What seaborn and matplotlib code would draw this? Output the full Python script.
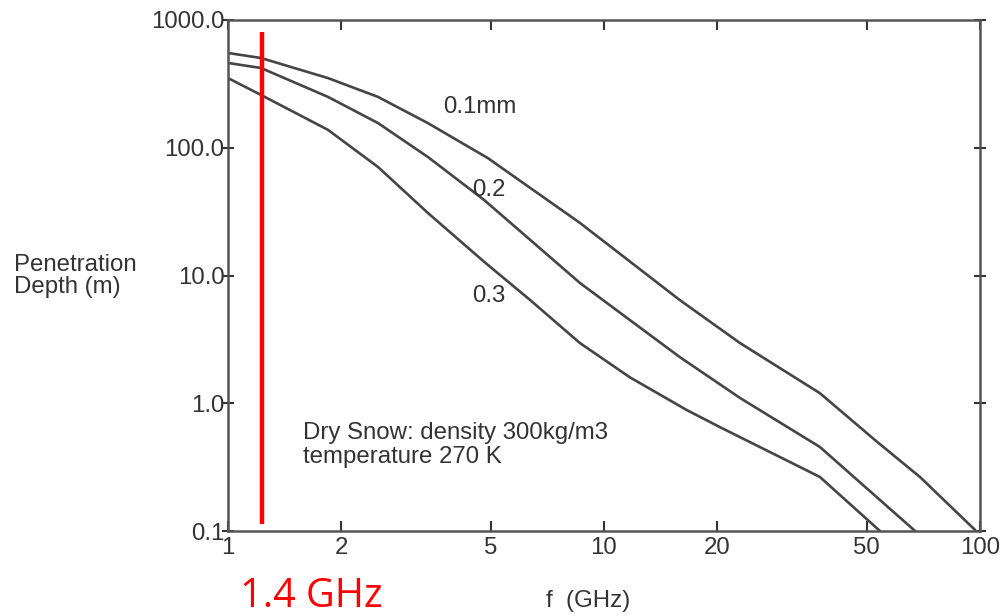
import numpy as np
import pandas as pd
import matplotlib
matplotlib.use("Agg")
import matplotlib.pyplot as plt
import matplotlib.ticker as mticker
import seaborn as sns

# ---- data ----
freq_01 = [1.0, 1.224, 1.845, 2.506, 3.40, 4.91, 8.63, 15.9, 23.0, 37.5, 53.2, 69.2, 97.0]
depth_01 = [552, 504, 351, 250, 156, 83, 25.8, 6.43, 2.96, 1.20, 0.50, 0.265, 0.102]

freq_02 = [1.0, 1.224, 1.845, 2.506, 3.40, 4.80, 8.63, 15.9, 23.0, 37.5, 67.2]
depth_02 = [461, 421, 250, 156, 84.7, 39, 8.74, 2.30, 1.10, 0.455, 0.1]

freq_03 = [1.0, 1.224, 1.845, 2.506, 3.40, 4.80, 6.36, 8.63, 11.7, 16.6, 20.3, 37.5, 54.2]
depth_03 = [351, 259, 138, 70.7, 30.9, 12.8, 6.43, 2.96, 1.60, 0.885, 0.652, 0.265, 0.1]

curve_labels = ["0.1mm", "0.2", "0.3"]
label_pos_f = [3.73, 4.46, 4.46]
label_pos_d = [208, 46.7, 6.9]

x_ticks = [1, 2, 5, 10, 20, 50, 100]
x_tick_labels = ["1", "2", "5", "10", "20", "50", "100"]
y_ticks = [0.1, 1, 10, 100, 1000]
y_tick_labels = ["0.1", "1.0", "10.0", "100.0", "1000.0"]

marker_freq = 1.23
marker_span = [0.1135, 805]
marker_text = "1.4 GHz"

note_text = "Dry Snow: density 300kg/m3\ntemperature 270 K"

# ---- build table ----
frames = []
for name, f, d in [("0.1", freq_01, depth_01), ("0.2", freq_02, depth_02), ("0.3", freq_03, depth_03)]:
    frames.append(pd.DataFrame({"f": f, "depth": d, "size": name}))
df = pd.concat(frames, ignore_index=True)

sns.set_theme(style="white")
plt.rcParams["font.family"] = ["Liberation Sans", "DejaVu Sans"]

fig = plt.figure(figsize=(10.08, 6.16), dpi=100)
ax = fig.add_axes([228 / 1008, 1 - 531 / 616, (980 - 228) / 1008, (531 - 20) / 616])

line_col = "#454545"
sns.lineplot(data=df, x="f", y="depth", hue="size",
             palette=[line_col, line_col, line_col], linewidth=1.9,
             legend=False, ax=ax, sort=False)

ax.set_xscale("log")
ax.set_yscale("log")
ax.set_xlim(1, 100)
ax.set_ylim(0.1, 1000)

ax.xaxis.set_major_locator(mticker.FixedLocator(x_ticks))
ax.xaxis.set_major_formatter(mticker.FixedFormatter(x_tick_labels))
ax.xaxis.set_minor_locator(mticker.NullLocator())
ax.yaxis.set_major_locator(mticker.FixedLocator(y_ticks))
ax.yaxis.set_major_formatter(mticker.FixedFormatter(y_tick_labels))
ax.yaxis.set_minor_locator(mticker.NullLocator())

text_col = "#333333"
fs = 17.3
ax.tick_params(axis="x", which="major", direction="in", length=7, width=1.5,
               color=text_col, top=True, bottom=True, labelsize=fs,
               labelcolor=text_col, pad=4)
ax.tick_params(axis="y", which="major", direction="inout", length=9, width=1.5,
               color=text_col, left=True, right=True, labelsize=fs,
               labelcolor=text_col, pad=-2)

for s in ax.spines.values():
    s.set_visible(True)
    s.set_color("#555555")
    s.set_linewidth(1.8)

ax.set_xlabel("")
ax.set_ylabel("")

# curve labels
for lab, fx, dy in zip(curve_labels, label_pos_f, label_pos_d):
    ax.text(fx, dy, lab, fontsize=fs, color=text_col, ha="left", va="center")

ax.text(1.58, 0.47, note_text, fontsize=fs, color=text_col,
        ha="left", va="center", linespacing=1.15)

# red marker
ax.plot([marker_freq, marker_freq], marker_span, color="#ff0000", linewidth=3.2,
        solid_capstyle="butt")
fig.text(240 / 1008, 1 - 597 / 616, marker_text, color="#ff0000", fontsize=28.5,
         family=["Open Sans", "DejaVu Sans"], ha="left", va="center")

# axis labels
fig.text(14 / 1008, 1 - 276 / 616, "Penetration\nDepth (m)", fontsize=fs,
         color=text_col, ha="left", va="center", linespacing=1.05)
fig.text(588 / 1008, 1 - 601 / 616, "f  (GHz)", fontsize=fs, color=text_col,
         ha="center", va="center")

fig.savefig("out.png", dpi=100, facecolor="white")
